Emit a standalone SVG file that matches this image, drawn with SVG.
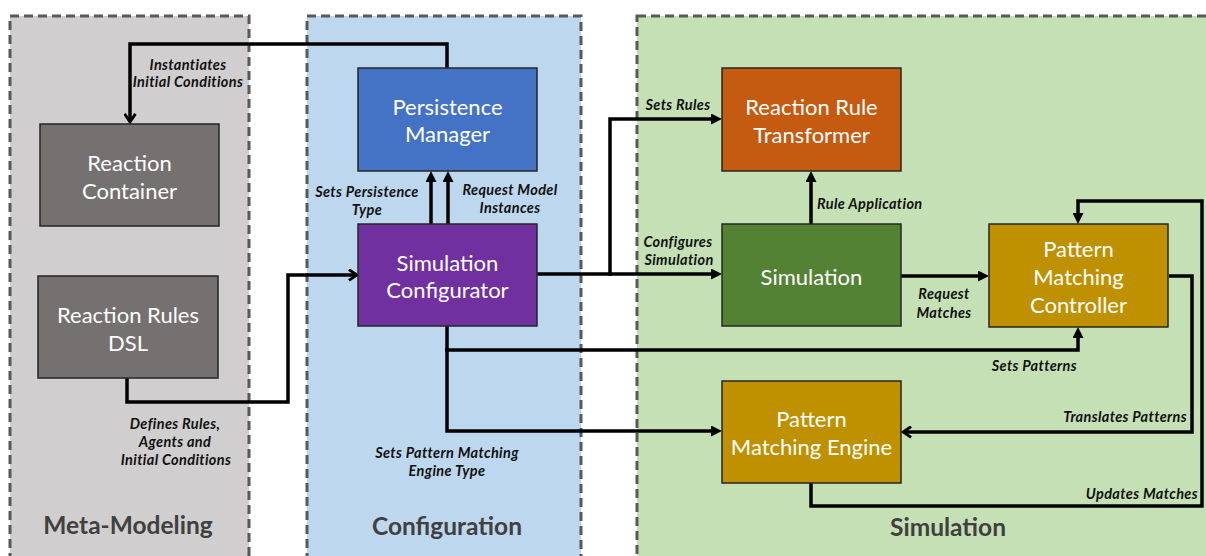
<svg xmlns="http://www.w3.org/2000/svg" width="1206" height="556" viewBox="0 0 1206 556">
  <style>
    .zone { stroke: #595959; stroke-width: 3; stroke-dasharray: 9 5; }
    .box { stroke: #262626; stroke-width: 1.5; }
    .name { font-family: Lato, "Open Sans", sans-serif; font-size: 22px; fill: #ffffff; text-anchor: middle; dominant-baseline: central; }
    .lbl { font-family: Lato, "Open Sans", sans-serif; font-size: 14.5px; letter-spacing: 0.35px; font-weight: bold; font-style: italic; fill: #111111; dominant-baseline: central; }
    .title { font-family: Lato, "Open Sans", sans-serif; font-size: 24.5px; font-weight: bold; fill: #404040; text-anchor: middle; dominant-baseline: central; }
    .wire { fill: none; stroke: #000000; stroke-width: 3.5; stroke-linejoin: miter; }
  </style>
  <defs>
    <marker id="tri" viewBox="0 0 10 10" refX="4.5" refY="5" markerWidth="11" markerHeight="11" markerUnits="userSpaceOnUse" orient="auto">
      <path d="M0,0 L10,5 L0,10 z" fill="#000000"/>
    </marker>
    <marker id="chev" viewBox="0 0 12 12" refX="9.5" refY="6" markerWidth="13" markerHeight="13" markerUnits="userSpaceOnUse" orient="auto">
      <path d="M2,1 L9.5,6 L2,11" fill="none" stroke="#000000" stroke-width="2.6"/>
    </marker>
  </defs>

  <!-- background -->
  <rect x="0" y="0" width="1206" height="556" fill="#ffffff"/>

  <!-- layer containers -->
  <g id="zone-meta">
    <rect class="zone" x="10" y="16" width="239" height="580" fill="#d0cece"/>
    <text class="title" x="128" y="524">Meta-Modeling</text>
  </g>
  <g id="zone-config">
    <rect class="zone" x="307" y="16" width="274" height="580" fill="#bdd7ee"/>
    <text class="title" x="447" y="525">Configuration</text>
  </g>
  <g id="zone-sim">
    <rect class="zone" x="637" y="16" width="620" height="580" fill="#c5e0b4"/>
    <text class="title" x="948" y="526">Simulation</text>
  </g>

  <!-- connectors -->
  <g id="connectors">
    <!-- Persistence Manager -> Reaction Container -->
    <path class="wire" d="M447,68 V44 H130 V122" marker-end="url(#chev)"/>
    <!-- Reaction Rules DSL -> Simulation Configurator -->
    <path class="wire" d="M127,378 V402 H288 V275 H357" marker-end="url(#chev)"/>
    <!-- Configurator -> Persistence Manager (two links) -->
    <path class="wire" d="M431,224 V177" marker-end="url(#tri)"/>
    <path class="wire" d="M448,224 V177" marker-end="url(#tri)"/>
    <!-- Configurator -> Reaction Rule Transformer -->
    <path class="wire" d="M537,274 H610 V119 H716" marker-end="url(#tri)"/>
    <!-- Configurator -> Simulation -->
    <path class="wire" d="M608,274 H716" marker-end="url(#tri)"/>
    <!-- Configurator -> Pattern Matching Controller -->
    <path class="wire" d="M447,326 V350 H1078 V333" marker-end="url(#tri)"/>
    <!-- Configurator -> Pattern Matching Engine -->
    <path class="wire" d="M447,348 V431 H716" marker-end="url(#tri)"/>
    <!-- Simulation -> Reaction Rule Transformer -->
    <path class="wire" d="M811,224 V177" marker-end="url(#tri)"/>
    <!-- Simulation -> Pattern Matching Controller -->
    <path class="wire" d="M901,276 H983" marker-end="url(#tri)"/>
    <!-- Controller -> Engine -->
    <path class="wire" d="M1169,276 H1192 V432 H903" marker-end="url(#chev)"/>
    <!-- Engine -> Controller -->
    <path class="wire" d="M811,483 V506 H1202 V201 H1078 V218" marker-end="url(#tri)"/>
  </g>

  <!-- connector labels -->
  <g id="labels">
    <text class="lbl" x="188" y="64" text-anchor="middle">Instantiates</text>
    <text class="lbl" x="188" y="81" text-anchor="middle">Initial Conditions</text>
    <text class="lbl" x="175" y="423" text-anchor="middle">Defines Rules,</text>
    <text class="lbl" x="175" y="441" text-anchor="middle">Agents and</text>
    <text class="lbl" x="176" y="459" text-anchor="middle">Initial Conditions</text>
    <text class="lbl" x="367" y="191" text-anchor="middle">Sets Persistence</text>
    <text class="lbl" x="367" y="209" text-anchor="middle">Type</text>
    <text class="lbl" x="510" y="189" text-anchor="middle">Request Model</text>
    <text class="lbl" x="510" y="207" text-anchor="middle">Instances</text>
    <text class="lbl" x="447" y="452" text-anchor="middle">Sets Pattern Matching</text>
    <text class="lbl" x="447" y="470" text-anchor="middle">Engine Type</text>
    <text class="lbl" x="678" y="104" text-anchor="middle">Sets Rules</text>
    <text class="lbl" x="678" y="241" text-anchor="middle">Configures</text>
    <text class="lbl" x="679" y="259" text-anchor="middle">Simulation</text>
    <text class="lbl" x="817" y="203">Rule Application</text>
    <text class="lbl" x="944" y="293" text-anchor="middle">Request</text>
    <text class="lbl" x="944" y="312" text-anchor="middle">Matches</text>
    <text class="lbl" x="1077" y="365" text-anchor="end">Sets Patterns</text>
    <text class="lbl" x="1187" y="416" text-anchor="end">Translates Patterns</text>
    <text class="lbl" x="1198" y="493" text-anchor="end">Updates Matches</text>
  </g>

  <!-- nodes -->
  <g id="reaction-container">
    <rect class="box" x="40" y="124" width="179" height="102" fill="#767171"/>
    <text class="name" x="129.5" y="162">Reaction</text>
    <text class="name" x="129.5" y="190">Container</text>
  </g>
  <g id="reaction-rules-dsl">
    <rect class="box" x="38" y="276" width="180" height="102" fill="#767171"/>
    <text class="name" x="128" y="314">Reaction Rules</text>
    <text class="name" x="128" y="342">DSL</text>
  </g>
  <g id="persistence-manager">
    <rect class="box" x="358" y="68" width="179" height="103" fill="#4472c4"/>
    <text class="name" x="447.5" y="106">Persistence</text>
    <text class="name" x="447.5" y="133">Manager</text>
  </g>
  <g id="simulation-configurator">
    <rect class="box" x="358" y="224" width="179" height="102" fill="#7030a0"/>
    <text class="name" x="447.5" y="262">Simulation</text>
    <text class="name" x="447.5" y="289">Configurator</text>
  </g>
  <g id="reaction-rule-transformer">
    <rect class="box" x="722" y="68" width="179" height="103" fill="#c55a11"/>
    <text class="name" x="811.5" y="106">Reaction Rule</text>
    <text class="name" x="811.5" y="134">Transformer</text>
  </g>
  <g id="simulation">
    <rect class="box" x="722" y="224" width="179" height="102" fill="#548235"/>
    <text class="name" x="811.5" y="276">Simulation</text>
  </g>
  <g id="pattern-matching-controller">
    <rect class="box" x="989" y="224" width="179" height="103" fill="#bf9000"/>
    <text class="name" x="1078.5" y="248">Pattern</text>
    <text class="name" x="1078.5" y="276">Matching</text>
    <text class="name" x="1078.5" y="304">Controller</text>
  </g>
  <g id="pattern-matching-engine">
    <rect class="box" x="722" y="381" width="179" height="102" fill="#bf9000"/>
    <text class="name" x="811.5" y="418">Pattern</text>
    <text class="name" x="811.5" y="446">Matching Engine</text>
  </g>
</svg>
